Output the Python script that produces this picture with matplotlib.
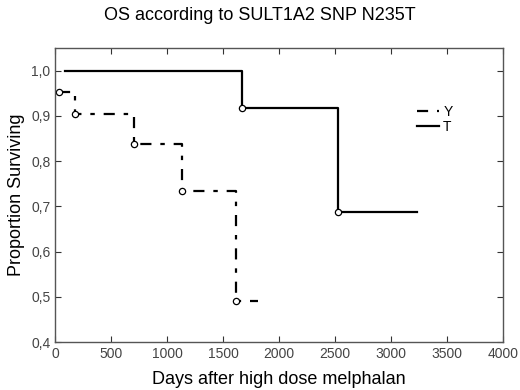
import matplotlib.pyplot as plt
import matplotlib.ticker as mticker

# survival steps
y_days = [36, 180, 705, 1134, 1616, 1810]
y_surv = [0.953, 0.904, 0.838, 0.733, 0.490, 0.490]

t_days = [89, 1670, 2527, 3232]
t_surv = [1.000, 0.918, 0.688, 0.688]

x_ticks = [0, 500, 1000, 1500, 2000, 2500, 3000, 3500, 4000]
y_ticks = [0.4, 0.5, 0.6, 0.7, 0.8, 0.9, 1.0]


def main():
    plt.rcParams['font.family'] = ['Liberation Sans', 'DejaVu Sans']

    fig = plt.figure(figsize=(5.2, 3.9), dpi=100)
    ax = fig.add_axes([0.106, 0.123, 0.861, 0.754])

    ax.step(y_days, y_surv, where='post', color='black', lw=1.6,
            linestyle=(0, (5, 4, 2, 4)), label='Y')
    ax.plot(y_days[:-1], y_surv[:-1], 'o', ms=4.5, mfc='white', mec='black', mew=0.9)

    ax.step(t_days, t_surv, where='post', color='black', lw=1.6, label='T')
    ax.plot(t_days[1:-1], t_surv[1:-1], 'o', ms=4.5, mfc='white', mec='black', mew=0.9)

    ax.set_xlim(0, 4000)
    ax.set_ylim(0.4, 1.05)
    ax.set_xticks(x_ticks)
    ax.set_yticks(y_ticks)
    ax.yaxis.set_major_formatter(mticker.FuncFormatter(lambda v, p: ('%.1f' % v).replace('.', ',')))
    ax.tick_params(direction='in', top=True, right=True, length=4, width=0.8,
                   labelsize=10, colors='#333333', labelcolor='#444444')
    for s in ax.spines.values():
        s.set_color('#555555')
        s.set_linewidth(1.0)

    ax.set_xlabel('Days after high dose melphalan', fontsize=13, labelpad=7)
    ax.set_ylabel('Proportion Surviving', fontsize=13, labelpad=4)
    fig.suptitle('OS according to SULT1A2 SNP N235T', fontsize=13, y=0.982)

    ax.legend(loc='upper left', bbox_to_anchor=(0.78, 0.85), frameon=False,
              handlelength=1.6, handletextpad=0.3, labelspacing=0.1, fontsize=10)

    fig.savefig('out.png', dpi=100)


if __name__ == "__main__":
    main()
